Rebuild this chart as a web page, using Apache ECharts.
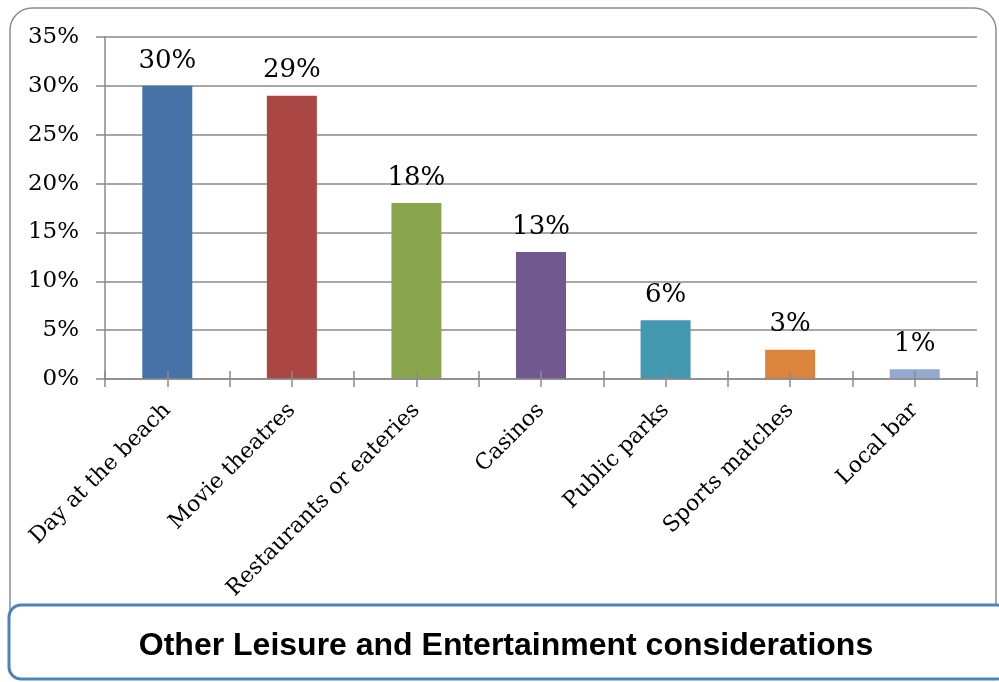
<!DOCTYPE html>
<html>
<head>
<meta charset="utf-8">
<script src="https://cdn.jsdelivr.net/npm/echarts@6/dist/echarts.min.js"></script>
<style>
  html, body { margin: 0; padding: 0; background: #fff; }
  #chart { width: 999px; height: 682px; }
</style>
</head>
<body>
<div id="chart"></div>
<script>
// Share of respondents choosing each leisure option (percent)
const categories = ['Day at the beach', 'Movie theatres', 'Restaurants or eateries', 'Casinos', 'Public parks', 'Sports matches', 'Local bar'];
const values = [30, 29, 18, 13, 6, 3, 1];
const barColors = ['#4572A7', '#AA4643', '#89A54E', '#71588F', '#4198AF', '#DB843D', '#93A9CF'];
const yTicks = { min: 0, max: 35, step: 5 };
const titleText = 'Other Leisure and Entertainment considerations';

const serif = 'DejaVu Serif';
const gridColor = '#8a8a8a';

// Two half-slots per category, so tick marks fall on bar centres and category edges
const halfSlots = categories.flatMap((c) => [c + ' (left)', c + ' (right)']);

const chart = echarts.init(document.getElementById('chart'), null, { renderer: 'canvas' });

// Hidden category axis that only contributes the crossing tick marks (drawn above the bars)
const tickAxis = (inside) => ({
  type: 'category',
  position: 'bottom',
  data: halfSlots,
  boundaryGap: true,
  z: 20,
  axisLine: { show: false },
  axisLabel: { show: false },
  splitLine: { show: false },
  axisTick: { show: true, inside: inside, interval: 0, length: 8, lineStyle: { color: gridColor, width: 1.5 } }
});

chart.setOption({
  animation: false,
  backgroundColor: '#fff',
  graphic: [
    {
      type: 'rect', z: -10,
      shape: { x: 10, y: 8, width: 986, height: 660, r: 22 },
      style: { fill: '#fff', stroke: '#8c8c8c', lineWidth: 1.5 }
    },
    {
      type: 'rect', z: 10,
      shape: { x: 9, y: 605, width: 1000, height: 74, r: 12 },
      style: { fill: '#fff', stroke: '#4F81BD', lineWidth: 3 }
    },
    {
      type: 'text', z: 11,
      x: 506, y: 646,
      style: {
        text: titleText,
        font: 'bold 32px "Liberation Sans", Arial, sans-serif',
        fill: '#000',
        align: 'center',
        verticalAlign: 'middle'
      }
    }
  ],
  grid: { left: 105, right: 22, top: 37, bottom: 303, containLabel: false },
  xAxis: [
    {
      type: 'category',
      data: categories,
      boundaryGap: true,
      z: 20,
      axisLine: { show: true, lineStyle: { color: gridColor, width: 1.5 } },
      axisTick: { show: false },
      axisLabel: {
        rotate: 45,
        interval: 0,
        margin: 28,
        fontFamily: serif,
        fontSize: 22,
        color: '#000'
      }
    },
    tickAxis(false),
    tickAxis(true)
  ],
  yAxis: {
    type: 'value',
    min: yTicks.min,
    max: yTicks.max,
    interval: yTicks.step,
    axisLine: { show: true, lineStyle: { color: gridColor, width: 1.5 } },
    axisTick: { show: true, length: 9, lineStyle: { color: gridColor, width: 1.5 } },
    splitLine: { show: true, lineStyle: { color: gridColor, width: 1.5 } },
    axisLabel: {
      formatter: '{value}%',
      margin: 26,
      fontFamily: serif,
      fontSize: 23,
      color: '#000'
    }
  },
  series: [{
    type: 'bar',
    xAxisIndex: 0,
    data: values.map((v, i) => ({ value: v, itemStyle: { color: barColors[i] } })),
    barWidth: 50,
    label: {
      show: true,
      position: 'top',
      distance: 12,
      formatter: '{c}%',
      fontFamily: serif,
      fontSize: 26,
      color: '#000'
    }
  }]
});
</script>
</body>
</html>
